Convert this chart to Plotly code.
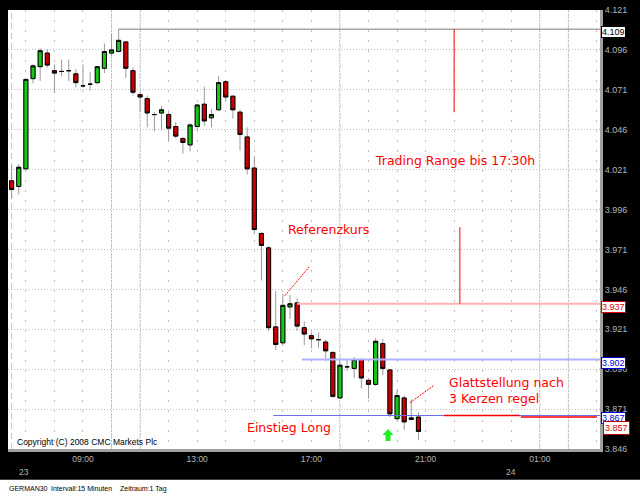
import plotly.graph_objects as go
import pandas as pd

# ---------------- data ----------------
opens = [4014, 4010.5, 4021.5, 4078, 4085.5, 4094, 4083, 4082.5, 4083, 4081,
         4073.5, 4074.5, 4075.5, 4084.5, 4094, 4095, 4101, 4083, 4068, 4065.5,
         4055.5, 4056.5, 4055.5, 4048, 4040.5, 4036.5, 4048, 4062, 4053.5, 4058.5,
         4076, 4067, 4057, 4041.5, 4022, 3981, 3972, 3922.5, 3912.5, 3935,
         3937.5, 3922, 3917, 3914.5, 3913, 3906.5, 3878, 3897.5, 3896.5, 3902,
         3889, 3886.5, 3912, 3895.5, 3865, 3878, 3864.5, 3866]
highs = [4024, 4024.5, 4078.5, 4087, 4097, 4096.5, 4087, 4090, 4090, 4084,
         4087, 4082, 4086, 4100, 4106, 4109, 4101.5, 4085, 4069.5, 4067.5,
         4057, 4061, 4057, 4051, 4041.5, 4050, 4062, 4073, 4059, 4079.5,
         4077, 4067.5, 4058.5, 4047.5, 4029.5, 3982, 3973, 3945, 3943, 3942.5,
         3940.5, 3926, 3919, 3919, 3914.5, 3907, 3901, 3902, 3903.5, 3903,
         3890.5, 3915.5, 3915, 3896, 3883.5, 3879.5, 3877, 3869]
lows = [4003, 4005.5, 4021, 4075, 4076.5, 4085, 4069, 4079.5, 4076.5, 4072.5,
        4072.5, 4070.5, 4074.5, 4081.5, 4092.5, 4094.5, 4078.5, 4067.5, 4057, 4047.5,
        4045, 4045.5, 4039, 4040.5, 4031, 4032.5, 4045.5, 4048.5, 4047.5, 4058,
        4064, 4053, 4033, 4018, 3980.5, 3951.5, 3920, 3908, 3910.5, 3927.5,
        3920, 3911, 3909, 3909.5, 3901, 3878, 3877.5, 3895, 3890.5, 3884,
        3877.5, 3885.5, 3892.5, 3866, 3864, 3858, 3864, 3851.5]
closes = [4008.5, 4022.5, 4077.5, 4086, 4095.5, 4086.5, 4081.5, 4082.5, 4083, 4075.5,
          4073.5, 4074.5, 4085.5, 4095, 4096, 4102, 4084.5, 4069.5, 4066.5, 4056.5,
          4055.5, 4058.5, 4047, 4042, 4038, 4049, 4061.5, 4051.5, 4055.5, 4075.5,
          4066.5, 4058.5, 4043, 4021.5, 3983.5, 3973.5, 3922, 3911.5, 3936, 3937,
          3923, 3918, 3915, 3914.5, 3907.5, 3879, 3898.5, 3897.5, 3902, 3890.5,
          3886.5, 3913.5, 3896.5, 3868, 3879.5, 3863, 3865.5, 3857]
times = pd.date_range("2008-10-23 06:30", periods=len(opens), freq="15min")

y_ticks = [3846, 3871, 3896, 3921, 3946, 3971, 3996, 4021, 4046, 4071, 4096, 4121]
x_tick_times = pd.date_range("2008-10-23 07:00", "2008-10-24 03:00", freq="1h")
x_tick_labels = {"09:00": "09:00", "13:00": "13:00", "17:00": "17:00",
                 "21:00": "21:00", "01:00": "01:00"}
day_labels = ["23", "24"]
day_label_times = ["2008-10-23 06:55", "2008-10-24 00:00"]

# horizontal level lines (price, start time, colour, width, label colour)
level_prices = [4109, 3937, 3902, 3867]
level_starts = ["2008-10-23 10:15", "2008-10-23 16:30", "2008-10-23 16:40", "2008-10-23 15:40"]
level_colors = ["#7a7a7a", "#ffb0b0", "#b0b0ff", "#6a6ae6"]
level_widths = [1, 2, 2, 1]
level_label_colors = ["#000000", "#e00000", "#0000e0", "#0000e0"]
last_price = 3857

X_START = "2008-10-23 06:22:24"
X_END = "2008-10-24 03:06:30"

RED = "#ff0000"

fig = go.Figure()

# wicks (grey)
fig.add_trace(go.Candlestick(
    x=times, open=opens, high=highs, low=lows, close=closes,
    increasing=dict(line=dict(color="#9a9a9a", width=1), fillcolor="#9a9a9a"),
    decreasing=dict(line=dict(color="#9a9a9a", width=1), fillcolor="#9a9a9a"),
    whiskerwidth=0, hoverinfo="skip", showlegend=False))

# bodies (black outline)
body_hi = [max(o, c) for o, c in zip(opens, closes)]
body_lo = [min(o, c) for o, c in zip(opens, closes)]
fig.add_trace(go.Candlestick(
    x=times, open=opens, high=body_hi, low=body_lo, close=closes,
    increasing=dict(line=dict(color="#000000", width=1), fillcolor="#14c814"),
    decreasing=dict(line=dict(color="#000000", width=1), fillcolor="#c80000"),
    whiskerwidth=0, hoverinfo="skip", showlegend=False))

shapes = []
# dashed vertical gridlines
for t in ["2008-10-23 06:30", "2008-10-23 10:00", "2008-10-23 11:00",
          "2008-10-23 18:00", "2008-10-24 01:00", "2008-10-24 02:00"]:
    shapes.append(dict(type="line", xref="x", yref="paper", x0=t, x1=t, y0=0, y1=1,
                       line=dict(color="#c4c4c4", width=1, dash="6px,4px"), layer="below"))

for p, s, c, w in zip(level_prices, level_starts, level_colors, level_widths):
    shapes.append(dict(type="line", xref="x", yref="y", x0=s, x1=X_END, y0=p, y1=p,
                       line=dict(color=c, width=w)))

# red exit line
shapes.append(dict(type="line", xref="x", yref="y", x0="2008-10-23 21:39", x1="2008-10-24 00:18",
                   y0=3867, y1=3867, line=dict(color=RED, width=1.5)))
shapes.append(dict(type="line", xref="x", yref="y", x0="2008-10-24 00:20", x1="2008-10-24 03:00",
                   y0=3866, y1=3866, line=dict(color=RED, width=1.5)))
# red vertical range markers
shapes.append(dict(type="line", xref="x", yref="y", x0="2008-10-23 22:00", x1="2008-10-23 22:00",
                   y0=4109, y1=4057, line=dict(color=RED, width=1)))
shapes.append(dict(type="line", xref="x", yref="y", x0="2008-10-23 22:12", x1="2008-10-23 22:12",
                   y0=3937, y1=3985, line=dict(color=RED, width=1)))
# diagonal pointer lines
shapes.append(dict(type="line", xref="x", yref="y", x0="2008-10-23 16:04", x1="2008-10-23 16:55",
                   y0=3942, y1=3960, line=dict(color=RED, width=1, dash="2px,1px")))
shapes.append(dict(type="line", xref="x", yref="y", x0="2008-10-23 20:27", x1="2008-10-23 21:16",
                   y0=3875, y1=3885.5, line=dict(color=RED, width=1, dash="2px,1px")))
# green arrow
shapes.append(dict(type="path", xref="x", yref="y", xsizemode="pixel", ysizemode="pixel",
                   xanchor="2008-10-23 19:41", yanchor=3851,
                   path="M 0 12 L -5.5 6 L -2.5 6 L -2.5 0 L 2.5 0 L 2.5 6 L 5.5 6 Z",
                   fillcolor="#22ee22", line=dict(color="#22ee22", width=0)))
# white footer strip
shapes.append(dict(type="rect", xref="paper", yref="paper", x0=-0.02, x1=1.08,
                   y0=-0.0698, y1=-0.13, fillcolor="white", line=dict(width=0), layer="above"))

annotations = []
txt_font = dict(family="DejaVu Sans", size=12.5, color=RED)
annotations.append(dict(x="2008-10-23 19:09", y=4026.9, xref="x", yref="y", text="Trading Range bis 17:30h",
                        showarrow=False, xanchor="left", yanchor="middle", font=txt_font))
annotations.append(dict(x="2008-10-23 16:06", y=3983.7, xref="x", yref="y", text="Referenzkurs",
                        showarrow=False, xanchor="left", yanchor="middle", font=txt_font))
annotations.append(dict(x="2008-10-23 14:40", y=3859.2, xref="x", yref="y", text="Einstieg Long",
                        showarrow=False, xanchor="left", yanchor="middle", font=txt_font))
annotations.append(dict(x="2008-10-23 21:44", y=3882.4, xref="x", yref="y",
                        text="Glattstellung nach<br>3 Kerzen regel", align="left",
                        showarrow=False, xanchor="left", yanchor="middle", font=txt_font))

lab_font = "Liberation Sans"
for p, c in zip(level_prices, level_label_colors):
    annotations.append(dict(x=1, y=p, xref="paper", yref="y", text=f"{p/1000:.3f}",
                            showarrow=False, xanchor="left", yanchor="middle", xshift=1, yshift=-3,
                            font=dict(family=lab_font, size=9, color=c), bgcolor="white",
                            bordercolor=c, borderwidth=1, borderpad=0))
annotations.append(dict(x=1, y=last_price, xref="paper", yref="y", text=f"{last_price/1000:.3f}",
                        showarrow=False, xanchor="left", yanchor="middle", xshift=3, yshift=3,
                        font=dict(family=lab_font, size=9, color="#e00000"), bgcolor="white",
                        bordercolor="#c00000", borderwidth=1, borderpad=1))

annotations.append(dict(x=0.0118, y=0.0158, xref="paper", yref="paper",
                        text="Copyright (C) 2008 CMC Markets Plc", showarrow=False,
                        xanchor="left", yanchor="middle", font=dict(family=lab_font, size=8.5, color="black")))
for lab, t in zip(day_labels, day_label_times):
    annotations.append(dict(x=t, y=-0.0518, xref="x", yref="paper", text=lab, showarrow=False,
                            xanchor="center", yanchor="middle",
                            font=dict(family=lab_font, size=8.5, color="#b4b4b4")))
for txt, xp in [("GERMAN30", -0.0017), ("Intervall:15 Minuten", 0.0693), ("Zeitraum:1 Tag", 0.1858)]:
    annotations.append(dict(x=xp, y=-0.0901, xref="paper", yref="paper", text=txt, showarrow=False,
                            xanchor="left", yanchor="middle",
                            font=dict(family=lab_font, size=7, color="black")))

x_ticktext = [x_tick_labels.get(t.strftime("%H:%M"), "") for t in x_tick_times]

fig.update_layout(
    width=640, height=500,
    margin=dict(l=8, r=40, t=5, b=51),
    paper_bgcolor="black", plot_bgcolor="white",
    showlegend=False, boxgap=0.18,
    separators=",.",
    shapes=shapes, annotations=annotations,
    xaxis=dict(type="date", range=[X_START, X_END], rangeslider=dict(visible=False),
               tickvals=list(x_tick_times), ticktext=x_ticktext, ticks="",
               tickfont=dict(family=lab_font, size=8.5, color="#b4b4b4"),
               showgrid=True, gridcolor="#bdbdbd", griddash="2px,8px", gridwidth=1,
               showline=True, linecolor="#a0a0a0", linewidth=3, zeroline=False,
               fixedrange=True),
    yaxis=dict(side="right", range=[3846, 4121], tickvals=y_ticks, tickformat=",d", ticks="",
               tickfont=dict(family=lab_font, size=9, color="#b4b4b4"),
               showgrid=True, gridcolor="#bdbdbd", griddash="1px,2px", gridwidth=1,
               showline=True, linecolor="#a0a0a0", linewidth=3, zeroline=False,
               fixedrange=True),
    hovermode=False,
)

fig.write_html("out.html", config={"displayModeBar": False},
               post_script="document.body.style.margin='0px';document.body.style.overflow='hidden';")
